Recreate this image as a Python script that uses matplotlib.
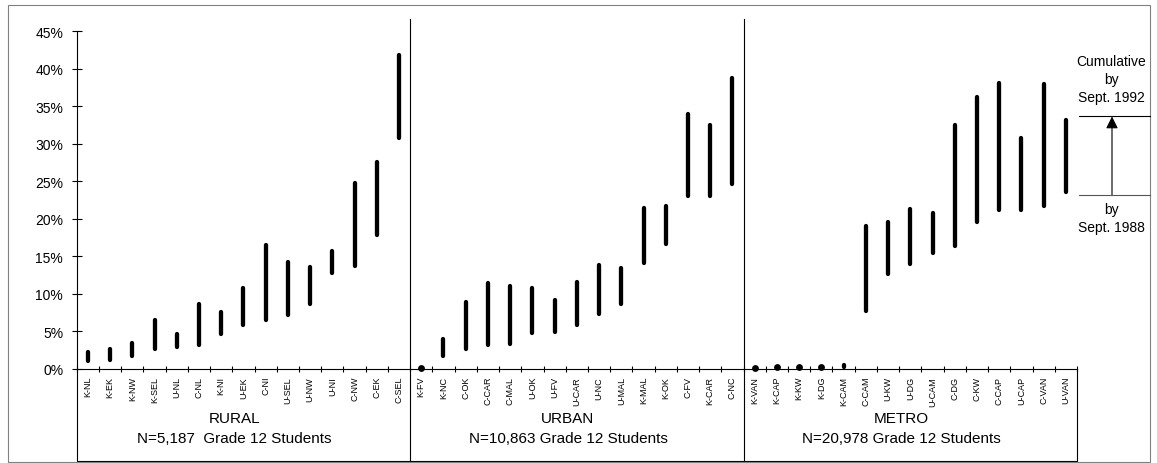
import numpy as np
import matplotlib
matplotlib.use("Agg")
import matplotlib.pyplot as plt
from matplotlib.lines import Line2D
from matplotlib.patches import Rectangle
from matplotlib.transforms import blended_transform_factory

plt.rcParams['font.family'] = ['Liberation Sans', 'DejaVu Sans']

# rate by Sept. 1988 (low) and cumulative by Sept. 1992 (high), in %
rural_labels = ["K-NL", "K-EK", "K-NW", "K-SEL", "U-NL", "C-NL", "K-NI", "U-EK",
                "C-NI", "U-SEL", "U-NW", "U-NI", "C-NW", "C-EK", "C-SEL"]
rural_low = [1.0, 1.25, 1.7, 2.6, 2.9, 3.15, 4.65, 5.8, 6.5, 7.15, 8.7, 12.8, 13.65, 17.8, 30.8]
rural_high = [2.2, 2.6, 3.5, 6.5, 4.7, 8.6, 7.55, 10.8, 16.45, 14.25, 13.6, 15.7, 24.8, 27.6, 41.8]

urban_labels = ["K-FV", "K-NC", "C-OK", "C-CAR", "C-MAL", "U-OK", "U-FV", "U-CAR",
                "U-NC", "U-MAL", "K-MAL", "K-OK", "C-FV", "K-CAR", "C-NC"]
urban_low = [0.1, 1.7, 2.6, 3.25, 3.35, 4.8, 4.95, 5.9, 7.35, 8.7, 14.1, 16.7, 23.05, 23.05, 24.6]
urban_high = [0.1, 3.95, 8.9, 11.5, 11.05, 10.75, 9.2, 11.55, 13.9, 13.45, 21.5, 21.65, 34.0, 32.45, 38.8]

metro_labels = ["K-VAN", "K-CAP", "K-KW", "K-DG", "K-CAM", "C-CAM", "U-KW", "U-DG",
                "U-CAM", "C-DG", "C-KW", "C-CAP", "U-CAP", "C-VAN", "U-VAN"]
metro_low = [0.1, 0.2, 0.2, 0.2, 0.25, 7.7, 12.6, 14.0, 15.45, 16.4, 19.55, 21.15, 21.2, 21.7, 23.55]
metro_high = [0.1, 0.2, 0.2, 0.2, 0.5, 19.05, 19.6, 21.35, 20.8, 32.45, 36.25, 38.05, 30.7, 37.9, 33.1]

groups = ["RURAL", "URBAN", "METRO"]
group_notes = ["N=5,187  Grade 12 Students", "N=10,863 Grade 12 Students",
               "N=20,978 Grade 12 Students"]
y_ticks = [0, 5, 10, 15, 20, 25, 30, 35, 40, 45]

W, H = 1157, 464
fig = plt.figure(figsize=(W / 100, H / 100), dpi=100)
ax = fig.add_axes([76.7 / W, 1 - 370 / H, (1077 - 76.7) / W, (370 - 32) / H])

labels = rural_labels + urban_labels + metro_labels
low = np.array(rural_low + urban_low + metro_low)
high = np.array(rural_high + urban_high + metro_high)
x = np.arange(len(labels)) + 0.5

# range bars
ax.vlines(x, low, high, color='black', lw=3.1, capstyle='round')
dots = (high - low) < 0.05
ax.plot(x[dots], low[dots], 'o', color='black', ms=3.9, clip_on=False)

ax.set_xlim(0, len(labels))
ax.set_ylim(0, 45)
ax.set_yticks(y_ticks)
ax.set_yticklabels([f"{v}%" for v in y_ticks], fontsize=10)
ax.tick_params(axis='y', direction='inout', length=6.5, width=0.8, pad=6.5)
ax.set_xticks(x)
ax.set_xticklabels(labels, rotation=90, fontsize=6.5)
ax.tick_params(axis='x', which='major', length=0, pad=5)
ax.set_xticks(np.arange(0, len(labels) + 1), minor=True)
ax.tick_params(axis='x', which='minor', direction='inout', length=4, width=0.8)

for s in ['top', 'right']:
    ax.spines[s].set_visible(False)
for s in ['left', 'bottom']:
    ax.spines[s].set_linewidth(0.8)

# group separators and lower label box
trans = blended_transform_factory(ax.transData, fig.transFigure)
y_top = 1 - 20 / H
y_axis = 1 - 370 / H
y_bot = 1 - 462 / H
for xs in [15, 30]:
    ax.plot([xs, xs], [y_top, y_bot], transform=trans, color='black', lw=0.8, clip_on=False)
ax.plot([0, 0, 45, 45], [y_axis, y_bot, y_bot, y_axis], transform=trans,
        color='black', lw=0.8, clip_on=False)

for i, (g, note) in enumerate(zip(groups, group_notes)):
    cx = i * 15 + 7.5 - 0.4
    ax.text(cx, 1 - 419 / H, g, transform=trans, ha='center', va='center', fontsize=11)
    ax.text(cx, 1 - 439 / H, note, transform=trans, ha='center', va='center', fontsize=11)

# legend key on the right
def px(xp, yp):
    return xp / W, 1 - yp / H

for txt, yp in [("Cumulative", 62), ("by", 80), ("Sept. 1992", 98), ("by", 210), ("Sept. 1988", 228)]:
    fig.text(*px(1111, yp), txt, ha='center', va='center', fontsize=10)

fig.add_artist(Line2D([1079 / W, 1150 / W], [1 - 117.3 / H] * 2, color='black', lw=0.8))
fig.add_artist(Line2D([1079 / W, 1150 / W], [1 - 195.7 / H] * 2, color='#555555', lw=0.8))
ax.annotate('', xy=px(1112, 117.5), xytext=px(1112, 195.7), xycoords='figure fraction',
            textcoords='figure fraction',
            arrowprops=dict(arrowstyle='-|>', color='black', lw=0.8,
                            mutation_scale=18, shrinkA=0, shrinkB=0))

# outer frame
fig.add_artist(Rectangle(px(7.5, 463), (1150 - 7.5) / W, (463 - 6) / H,
                         transform=fig.transFigure, fill=False, edgecolor='#808080', lw=0.8))

fig.savefig('out.png', dpi=100)
